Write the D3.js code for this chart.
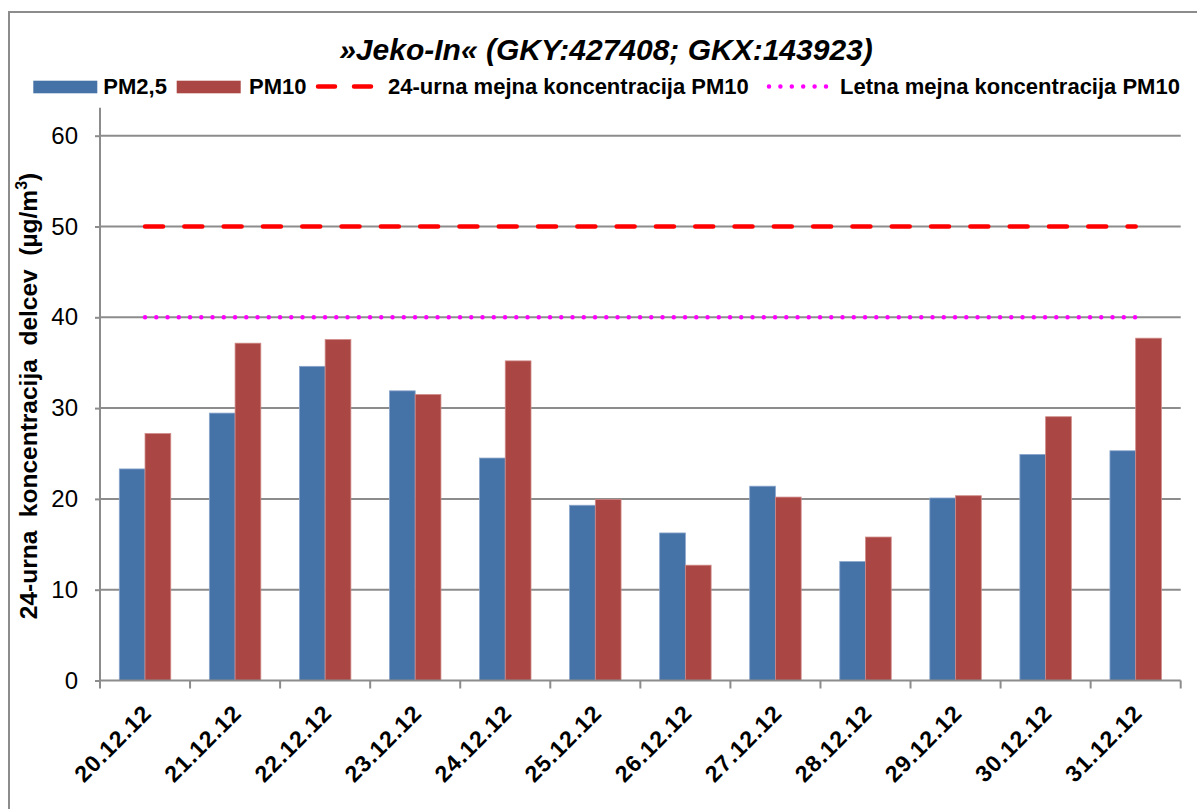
<!DOCTYPE html>
<html>
<head>
<meta charset="utf-8">
<script src="https://cdn.jsdelivr.net/npm/d3@7"></script>
<style>
  body { margin: 0; background: #fff; }
  text { font-family: "Liberation Sans", Arial, sans-serif; fill: #000; }
</style>
</head>
<body>
<script>
const width = 1197;
const height = 809;

// data
const dates = ["20.12.12", "21.12.12", "22.12.12", "23.12.12", "24.12.12", "25.12.12",
  "26.12.12", "27.12.12", "28.12.12", "29.12.12", "30.12.12", "31.12.12"];
const pm25 = [23.3, 29.45, 34.6, 31.9, 24.5, 19.3, 16.25, 21.4, 13.1, 20.1, 24.9, 25.3];
const pm10 = [27.2, 37.15, 37.55, 31.5, 35.2, 19.95, 12.7, 20.2, 15.8, 20.35, 29.05, 37.7];
const dailyLimit = 50;
const annualLimit = 40;
const yTicks = [0, 10, 20, 30, 40, 50, 60];
const seriesNames = ["PM2,5", "PM10"];

let margin = { top: 135.7, right: 16.3, bottom: 128.5, left: 100 };

let svg = d3.select("body")
  .append("svg")
  .attr("width", width)
  .attr("height", height);

// outer frame
svg.append("rect")
  .attr("x", 9)
  .attr("y", 12)
  .attr("width", 1210)
  .attr("height", 830)
  .attr("fill", "none")
  .attr("stroke", "#8c8c8c")
  .attr("stroke-width", 2);

let xScale = d3.scaleBand()
  .domain(dates)
  .range([margin.left, width - margin.right]);

let xInner = d3.scaleBand()
  .domain(seriesNames)
  .range([19.3, xScale.bandwidth() - 19.3]);

let yScale = d3.scaleLinear()
  .domain([0, 60])
  .range([height - margin.bottom, margin.top]);

let colors = { "PM2,5": "#4572A7", "PM10": "#AA4643" };
let edges = { "PM2,5": "#8aa6cc", "PM10": "#d08a88" };

// gridlines
svg.append("g")
  .selectAll("line")
  .data(yTicks.filter((d) => d > 0))
  .join("line")
  .attr("x1", margin.left)
  .attr("x2", width - margin.right)
  .attr("y1", (d) => yScale(d))
  .attr("y2", (d) => yScale(d))
  .attr("stroke", "#8c8c8c")
  .attr("stroke-width", 2);

// left axis
let leftAxis = d3.axisLeft(yScale)
  .tickValues(yTicks)
  .tickSize(5)
  .tickPadding(17);

let leftContainer = svg.append("g")
  .attr("transform", `translate(${margin.left}, 0)`)
  .call(leftAxis);
leftContainer.select(".domain").remove();
leftContainer.selectAll(".tick line").attr("stroke", "#8c8c8c").attr("stroke-width", 2);
leftContainer.selectAll(".tick text")
  .style("font-size", "24px")
  .attr("fill", "#000");

leftContainer.append("line")
  .attr("x1", 0)
  .attr("x2", 0)
  .attr("y1", margin.top - 28)
  .attr("y2", yScale(0) + 1)
  .attr("stroke", "#8c8c8c")
  .attr("stroke-width", 2);

// bars
let rows = dates.map((d, i) => ({ date: d, values: [
  { key: "PM2,5", value: pm25[i] },
  { key: "PM10", value: pm10[i] }
] }));

svg.append("g")
  .selectAll("g")
  .data(rows)
  .join("g")
  .attr("transform", (d) => `translate(${xScale(d.date)}, 0)`)
  .selectAll("rect")
  .data((d) => d.values)
  .join("rect")
  .attr("x", (d) => xInner(d.key))
  .attr("y", (d) => yScale(d.value))
  .attr("width", xInner.bandwidth())
  .attr("height", (d) => yScale(0) - yScale(d.value))
  .attr("fill", (d) => colors[d.key])
  .attr("stroke", (d) => edges[d.key])
  .attr("stroke-width", 0.8);

// bottom axis
let bottomContainer = svg.append("g");
bottomContainer.append("line")
  .attr("x1", margin.left)
  .attr("x2", width - margin.right)
  .attr("y1", yScale(0))
  .attr("y2", yScale(0))
  .attr("stroke", "#8c8c8c")
  .attr("stroke-width", 2);

let boundaries = dates.map((d) => xScale(d)).concat([xScale.range()[1]]);
bottomContainer.selectAll(".xtick")
  .data(boundaries)
  .join("line")
  .attr("class", "xtick")
  .attr("x1", (d) => d)
  .attr("x2", (d) => d)
  .attr("y1", yScale(0))
  .attr("y2", yScale(0) + 8)
  .attr("stroke", "#8c8c8c")
  .attr("stroke-width", 2);

bottomContainer.selectAll(".xlabel")
  .data(dates)
  .join("text")
  .attr("class", "xlabel")
  .text((d) => d)
  .style("font-size", "23px")
  .style("font-weight", "bold")
  .style("letter-spacing", "1px")
  .attr("text-anchor", "end")
  .attr("transform", (d) => `translate(${xScale(d) + xScale.bandwidth() / 2 + 8}, ${yScale(0) + 34}) rotate(-45)`);

// limit lines
let limitLine = (v) => d3.line()
  .x((d) => xScale(d) + xScale.bandwidth() / 2)
  .y(() => yScale(v));

svg.append("path")
  .datum(dates)
  .attr("d", limitLine(annualLimit))
  .attr("fill", "none")
  .attr("stroke", "#FF00FF")
  .attr("stroke-width", 4.5)
  .attr("stroke-linecap", "round")
  .attr("stroke-dasharray", "0 11.25");

svg.append("path")
  .datum(dates)
  .attr("d", limitLine(dailyLimit))
  .attr("fill", "none")
  .attr("stroke", "#FF0000")
  .attr("stroke-width", 4.5)
  .attr("stroke-linecap", "round")
  .attr("stroke-dasharray", "18 21.3");

// y title
svg.append("text")
  .text("24-urna  koncentracija  delcev  (µg/m")
  .style("font-size", "24.5px")
  .style("font-weight", "bold")
  .style("white-space", "pre")
  .attr("text-anchor", "middle")
  .attr("transform", `translate(37, 396) rotate(270)`)
  .call((t) => {
    t.append("tspan").text("3").attr("dy", -10).style("font-size", "16px");
    t.append("tspan").text(")").attr("dy", 10);
  });

// title
svg.append("text")
  .text("»Jeko-In« (GKY:427408; GKX:143923)")
  .style("font-size", "30px")
  .style("font-weight", "bold")
  .style("font-style", "italic")
  .attr("text-anchor", "middle")
  .attr("x", 606)
  .attr("y", 60);

// legend
let legend = svg.append("g");
let swatches = [
  { key: "PM2,5", x: 33.3 },
  { key: "PM10", x: 176.7 }
];
legend.selectAll("rect")
  .data(swatches)
  .join("rect")
  .attr("x", (d) => d.x)
  .attr("y", 80.7)
  .attr("width", 64)
  .attr("height", 12.6)
  .attr("fill", (d) => colors[d.key]);

legend.append("line")
  .attr("x1", 318).attr("x2", 376)
  .attr("y1", 86.5).attr("y2", 86.5)
  .attr("stroke", "#FF0000")
  .attr("stroke-width", 4.5)
  .attr("stroke-linecap", "round")
  .attr("stroke-dasharray", "17 19");

legend.append("line")
  .attr("x1", 769).attr("x2", 826)
  .attr("y1", 86.5).attr("y2", 86.5)
  .attr("stroke", "#FF00FF")
  .attr("stroke-width", 4.5)
  .attr("stroke-linecap", "round")
  .attr("stroke-dasharray", "0 11.4");

let legendLabels = [
  { text: "PM2,5", x: 103.3 },
  { text: "PM10", x: 249 },
  { text: "24-urna mejna koncentracija PM10", x: 388 },
  { text: "Letna mejna koncentracija PM10", x: 840 }
];
legend.selectAll("text")
  .data(legendLabels)
  .join("text")
  .text((d) => d.text)
  .attr("x", (d) => d.x)
  .attr("y", 93.5)
  .style("font-size", "22px")
  .style("font-weight", "bold");
</script>
</body>
</html>
